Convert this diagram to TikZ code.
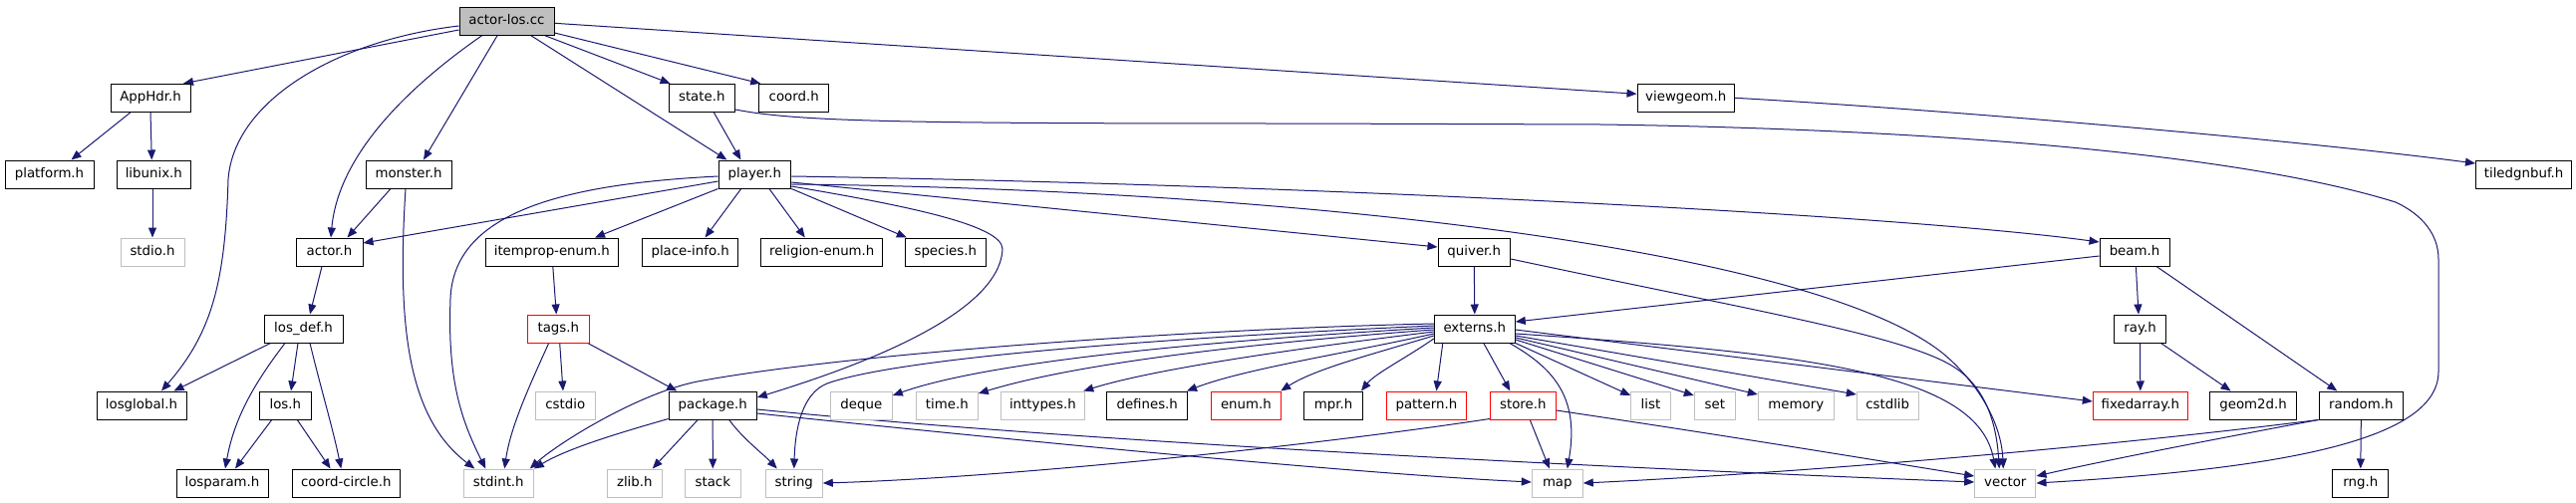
\documentclass[tikz,border=0pt]{standalone}
\usepackage{fontspec}
\setmainfont{DejaVu Sans}
\usetikzlibrary{arrows.meta,calc}
\definecolor{edgeblue}{HTML}{191970}
\definecolor{lgray}{HTML}{BFBFBF}
\pgfdeclarelayer{bg}
\pgfsetlayers{bg,main}
\begin{document}
\begin{tikzpicture}[x=0.75pt,y=-0.75pt,
  nb/.style={draw=black, line width=0.75pt, fill=white, font=\fontsize{10}{12}\selectfont,
    minimum height=21pt, inner sep=0pt, text height=7.3pt, text depth=2.3pt},
  gb/.style={nb, draw=lgray},
  rb/.style={nb, draw=red},
  bw/.style={minimum width=#1*0.75pt},
  ed/.style={draw=edgeblue, line width=0.75pt, -{Triangle[length=7.5pt,width=6pt]}}]
\useasboundingbox (0,0) rectangle (2585,504);
% nodes
\node[nb,bw=95,fill=lgray] (root) at (508.5,21.3) {actor-los.cc};
\node[nb,bw=80] (apphdr) at (151,98.3) {AppHdr.h};
\node[nb,bw=66.5] (state) at (704.3,98.3) {state.h};
\node[nb,bw=70] (coord) at (796.7,98.3) {coord.h};
\node[nb,bw=97.6] (viewgeom) at (1691.8,98.3) {viewgeom.h};
\node[nb,bw=89] (platform) at (49.5,175) {platform.h};
\node[nb,bw=74.5] (libunix) at (154.3,175) {libunix.h};
\node[nb,bw=86] (monster) at (410,175) {monster.h};
\node[nb,bw=72.7] (player) at (757.4,175) {player.h};
\node[nb,bw=96.2] (tiledgnbuf) at (2532.6,175) {tiledgnbuf.h};
\node[gb,bw=64] (stdio) at (153,253) {stdio.h};
\node[nb,bw=67] (actor) at (330.5,253) {actor.h};
\node[nb,bw=133.4] (itemprop) at (553.8,253) {itemprop-enum.h};
\node[nb,bw=96] (placeinfo) at (692.6,253) {place-info.h};
\node[nb,bw=121.7] (religion) at (824.8,253) {religion-enum.h};
\node[nb,bw=81] (species) at (948.8,253) {species.h};
\node[nb,bw=72.6] (quiver) at (1479.3,253) {quiver.h};
\node[nb,bw=70] (beam) at (2142,253) {beam.h};
\node[nb,bw=79] (losdef) at (304.5,330) {los\_def.h};
\node[rb,bw=62] (tags) at (560.3,330) {tags.h};
\node[nb,bw=81] (externs) at (1479.8,330) {externs.h};
\node[nb,bw=52] (ray) at (2147.5,330) {ray.h};
\node[nb,bw=90] (losglobal) at (142,407) {losglobal.h};
\node[nb,bw=52.5] (los) at (286.3,407) {los.h};
\node[gb,bw=60] (cstdio) at (567.3,407) {cstdio};
\node[nb,bw=88.2] (package) at (715.2,407) {package.h};
\node[gb,bw=62] (deque) at (864.3,407) {deque};
\node[gb,bw=62] (timeh) at (950.3,407) {time.h};
\node[gb,bw=84.8] (inttypes) at (1046.4,407) {inttypes.h};
\node[nb,bw=80.5] (defines) at (1151.2,407) {defines.h};
\node[rb,bw=70.7] (enumh) at (1250.4,407) {enum.h};
\node[nb,bw=59] (mpr) at (1338,407) {mpr.h};
\node[rb,bw=80] (pattern) at (1431.4,407) {pattern.h};
\node[rb,bw=66] (store) at (1528.3,407) {store.h};
\node[gb,bw=39.6] (list) at (1656.5,407) {list};
\node[gb,bw=41] (set) at (1720.8,407) {set};
\node[gb,bw=76] (memory) at (1802.3,407) {memory};
\node[gb,bw=61.7] (cstdlib) at (1894.2,407) {cstdlib};
\node[rb,bw=95] (fixedarray) at (2147.8,407) {fixedarray.h};
\node[nb,bw=87] (geom2d) at (2261.1,407) {geom2d.h};
\node[nb,bw=84.6] (random) at (2369.3,407) {random.h};
\node[nb,bw=92] (losparam) at (223,485) {losparam.h};
\node[nb,bw=107.5] (coordcircle) at (347.3,485) {coord-circle.h};
\node[gb,bw=70] (stdint) at (500.3,485) {stdint.h};
\node[gb,bw=55] (zlib) at (636.8,485) {zlib.h};
\node[gb,bw=56] (stack) at (715.3,485) {stack};
\node[gb,bw=57] (string) at (796.8,485) {string};
\node[gb,bw=51] (map) at (1562.8,485) {map};
\node[gb,bw=61.3] (vector) at (2012.3,485) {vector};
\node[nb,bw=55.7] (rng) at (2368.8,485) {rng.h};
% edges
\begin{pgfonlayer}{bg}
\fill[white] (0,0) rectangle (2585,504);
\draw[ed] ($(root.west)+(0,8.7)$) -- ($(apphdr.north)+(33,0)$);
\draw[ed] ($(root.west)+(0,4.7)$) .. controls (340,40) and (235,100) .. (229,180) .. controls (226,285) and (212,335) .. ($(losglobal.north)+(20,0)$);
\draw[ed] ($(root.south)+(-25,0)$) .. controls (420,80) and (340,150) .. ($(actor.north)+(1.5,0)$);
\draw[ed] ($(root.south)+(-9.5,0)$) -- ($(monster.north)+(15,0)$);
\draw[ed] ($(root.south)+(24.5,0)$) -- ($(player.north)+(-28,0)$);
\draw[ed] ($(root.south)+(38.5,0)$) -- ($(state.north west)+(2,0)$);
\draw[ed] ($(root.east)+(0,11.7)$) -- ($(coord.north west)+(2,0)$);
\draw[ed] ($(root.east)+(0,2)$) -- ($(viewgeom.west)+(0,-4)$);
\draw[ed] ($(apphdr.south)+(-20,0)$) -- ($(platform.north)+(22,0)$);
\draw[ed] (apphdr.south) -- ($(libunix.north)+(-2,0)$);
\draw[ed] ($(libunix.south)+(-1.3,0)$) -- (stdio.north);
\draw[ed] ($(monster.south)+(-18,0)$) -- ($(actor.north)+(18,0)$);
\draw[ed] ($(monster.south)+(-3,0)$) .. controls (398,330) and (410,420) .. ($(stdint.north)+(-24,0)$);
\draw[ed] ($(actor.south)+(-7.5,0)$) -- ($(losdef.north)+(6.5,0)$);
\draw[ed] ($(losdef.south)+(-33,0)$) -- ($(losglobal.north east)+(-13,0)$);
\draw[ed] ($(losdef.south)+(-18.5,0)$) .. controls (255,385) and (235,420) .. ($(losparam.north)+(3,0)$);
\draw[ed] ($(losdef.south)+(-5.5,0)$) -- ($(los.north)+(5.7,0)$);
\draw[ed] ($(losdef.south)+(6.5,0)$) .. controls (322,390) and (334,430) .. ($(coordcircle.north)+(-5,0)$);
\draw[ed] ($(los.south)+(-13.6,0)$) -- ($(losparam.north)+(13,0)$);
\draw[ed] ($(los.south)+(12,0)$) -- ($(coordcircle.north)+(-15.7,0)$);
\draw[ed] ($(itemprop.south)+(1,0)$) -- ($(tags.north)+(-2,0)$);
\draw[ed] ($(tags.south)+(-9.6,0)$) .. controls (530,390) and (512,430) .. ($(stdint.north)+(6,0)$);
\draw[ed] ($(tags.south)+(1.4,0)$) -- ($(cstdio.north)+(-2.3,0)$);
\draw[ed] ($(tags.south east)+(-2,0)$) -- ($(package.north)+(-36,0)$);
\draw[ed] ($(player.west)+(0,7)$) -- ($(actor.east)+(0,-9)$);
\draw[ed] ($(player.west)+(0,2)$) .. controls (560,185) and (455,215) .. (452,300) .. controls (449,380) and (462,420) .. ($(stdint.north)+(-13,0)$);
\draw[ed] (player.south west) -- ($(itemprop.north east)+(-24,0)$);
\draw[ed] ($(player.south)+(-13.7,0)$) -- ($(placeinfo.north)+(15,0)$);
\draw[ed] ($(player.south)+(14.5,0)$) -- ($(religion.north)+(-17,0)$);
\draw[ed] (player.south east) -- ($(species.north west)+(2,0)$);
\draw[ed] ($(player.east)+(0,12)$) .. controls (900,205) and (1006,225) .. (1006,250) .. controls (1004,300) and (920,350) .. ($(package.east)+(0,-8)$);
\draw[ed] ($(player.east)+(0,2)$) .. controls (1300,185) and (1900,215) .. ($(beam.west)+(0,-10)$);
\draw[ed] ($(player.east)+(0,8)$) -- ($(quiver.west)+(0,-5)$);
\draw[ed] ($(player.east)+(0,10)$) .. controls (1300,190) and (1820,250) .. (1950,355) .. controls (1980,380) and (2008,420) .. ($(vector.north)+(-2,0)$);
\draw[ed] (quiver.south) -- (externs.north);
\draw[ed] ($(quiver.east)+(0,7)$) .. controls (1750,310) and (1900,335) .. (1955,365) .. controls (1990,384) and (2003,420) .. ($(vector.north)+(-6,0)$);
\draw[ed] ($(beam.west)+(0,4)$) -- ($(externs.east)+(0,-7)$);
\draw[ed] ($(beam.south)+(1.4,0)$) -- ($(ray.north)+(-1.5,0)$);
\draw[ed] ($(beam.south)+(22,0)$) -- ($(random.north)+(-24,0)$);
\draw[ed] (ray.south) -- (fixedarray.north);
\draw[ed] ($(ray.south)+(21,0)$) -- ($(geom2d.north)+(-22.5,0)$);
\draw[ed] (random.south) -- (rng.north);
\draw[ed] (random.south west) .. controls (2200,445) and (2100,465) .. ($(vector.east)+(0,-7)$);
\draw[ed] (random.south west) .. controls (2100,450) and (1800,475) .. (map.east);
\draw[ed] ($(state.south)+(12,0)$) -- ($(player.north)+(-14,0)$);
\draw[ed] ($(state.east)+(0,11.7)$) .. controls (800,122) and (900,124) .. (1300,124) -- (1607,125) .. controls (1950,130) and (2250,155) .. (2404,203) .. controls (2430,215) and (2447,235) .. (2447,260) -- (2447,373) .. controls (2447,440) and (2300,470) .. (vector.east);
\draw[ed] (viewgeom.east) .. controls (1950,110) and (2300,140) .. ($(tiledgnbuf.west)+(0,-11)$);
\draw[ed] ($(externs.west)+(0,-5)$) .. controls (1200,330) and (850,355) .. (700,383) .. controls (640,395) and (560,445) .. ($(stdint.north east)+(-4,0)$);
\draw[ed] ($(externs.west)+(0,-3)$) .. controls (1150,340) and (900,360) .. (830,385) .. controls (805,395) and (798,430) .. (string.north);
\draw[ed] ($(externs.west)+(0,-1)$) .. controls (1250,340) and (1000,360) .. ($(deque.east)+(0,-10)$);
\draw[ed] ($(externs.west)+(0,1)$) .. controls (1250,345) and (1080,365) .. ($(timeh.east)+(0,-12)$);
\draw[ed] ($(externs.west)+(0,3)$) .. controls (1300,350) and (1160,370) .. ($(inttypes.north east)+(-2,0)$);
\draw[ed] ($(externs.west)+(0,5)$) .. controls (1350,355) and (1250,370) .. ($(defines.north east)+(-1,0)$);
\draw[ed] ($(externs.west)+(0,7)$) .. controls (1380,355) and (1320,370) .. ($(enumh.north east)+(-1,0)$);
\draw[ed] ($(externs.west)+(0,10)$) .. controls (1410,360) and (1380,375) .. ($(mpr.north east)+(-2,0)$);
\draw[ed] ($(externs.south west)+(9,0)$) -- ($(pattern.north)+(10,0)$);
\draw[ed] ($(externs.south)+(9,0)$) -- ($(store.north)+(-13,0)$);
\draw[ed] ($(externs.south east)+(-6,0)$) .. controls (1560,370) and (1585,400) .. ($(map.north)+(10,0)$);
\draw[ed] (externs.south east) -- ($(list.west)+(0,-10)$);
\draw[ed] ($(externs.east)+(0,11)$) -- ($(set.west)+(0,-10)$);
\draw[ed] ($(externs.east)+(0,9)$) -- ($(memory.west)+(0,-11)$);
\draw[ed] ($(externs.east)+(0,7)$) -- ($(cstdlib.west)+(0,-11)$);
\draw[ed] ($(externs.east)+(0,1)$) -- ($(fixedarray.west)+(0,-4)$);
\draw[ed] ($(externs.east)+(0,5)$) .. controls (1820,355) and (1985,375) .. ($(vector.north)+(-10,0)$);
\draw[ed] ($(package.south)+(-15,0)$) -- ($(zlib.north)+(18,0)$);
\draw[ed] (package.south) -- (stack.north);
\draw[ed] ($(package.south)+(16.5,0)$) .. controls (745,440) and (765,455) .. ($(string.north)+(-17,0)$);
\draw[ed] ($(package.south west)+(0,-1)$) .. controls (620,435) and (570,450) .. (stdint.north east);
\draw[ed] ($(package.east)+(0,8)$) .. controls (1000,440) and (1350,475) .. ($(map.west)+(0,-1)$);
\draw[ed] ($(package.east)+(0,4)$) .. controls (1050,440) and (1500,465) .. ($(vector.west)+(0,-1)$);
\draw[ed] ($(store.south)+(7,0)$) -- ($(map.north)+(-8,0)$);
\draw[ed] ($(store.south west)+(0,-1)$) .. controls (1300,450) and (1000,480) .. (string.east);
\draw[ed] ($(store.east)+(0,5)$) .. controls (1750,440) and (1900,465) .. ($(vector.west)+(0,-7)$);
\end{pgfonlayer}
\end{tikzpicture}
\end{document}
